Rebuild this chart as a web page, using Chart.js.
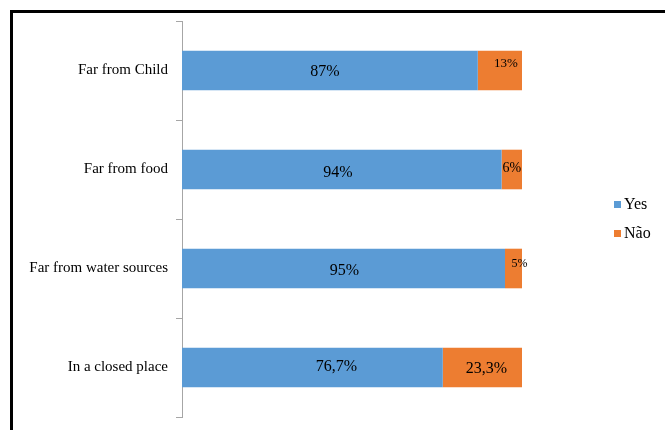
<!DOCTYPE html>
<html>
<head>
<meta charset="utf-8">
<script src="https://cdn.jsdelivr.net/npm/chart.js@4/dist/chart.umd.min.js"></script>
<style>
  body { margin: 0; background: #fff; }
  #wrap { position: relative; width: 665px; height: 430px; overflow: hidden; }
  #frame { position: absolute; left: 10px; top: 10px; width: 800px; height: 600px; border: 3px solid #000; }
  #chart { position: absolute; left: 0; top: 0; }
</style>
</head>
<body>
<div id="wrap">
  <div id="frame"></div>
  <canvas id="chart" width="665" height="430"></canvas>
</div>
<script>
// Where to keep it: share of answers
const categories = ['Far from Child', 'Far from food', 'Far from water sources', 'In a closed place'];
const yesValues = [87, 94, 95, 76.7];
const naoValues = [13, 6, 5, 23.3];

// label look per bar: [font size, shift x, shift y]
const yesLabelStyle = [[16, -5, 1], [16, -4, 3], [16, 1, 2], [16, 24, -1]];
const naoLabelStyle = [[13, 6, -7], [14, 0, -1], [12, 6, -5], [16, 4, 1]];

const serif = '"Liberation Serif", "Times New Roman", serif';

function fmt(v) {
    return String(v).replace('.', ',') + '%';
}

// value text on each bar segment
const barLabels = {
    id: 'barLabels',
    afterDatasetsDraw(chart) {
        const ctx = chart.ctx;
        const styles = [yesLabelStyle, naoLabelStyle];
        ctx.save();
        ctx.fillStyle = '#000';
        ctx.textAlign = 'center';
        ctx.textBaseline = 'middle';
        chart.data.datasets.forEach((ds, di) => {
            chart.getDatasetMeta(di).data.forEach((bar, i) => {
                const [size, dx, dy] = styles[di][i];
                ctx.font = size + 'px ' + serif;
                ctx.fillText(fmt(ds.data[i]), (bar.x + bar.base) / 2 + dx, bar.y + dy);
            });
        });
        ctx.restore();
    }
};

// legend to the right of the plot
const sideLegend = {
    id: 'sideLegend',
    afterDraw(chart) {
        const ctx = chart.ctx;
        ctx.save();
        ctx.font = '16px ' + serif;
        ctx.textBaseline = 'middle';
        chart.data.datasets.forEach((ds, i) => {
            const y = 205 + i * 29;
            ctx.fillStyle = ds.backgroundColor;
            ctx.fillRect(614, y - 4, 7, 7);
            ctx.fillStyle = '#000';
            ctx.fillText(ds.label, 624, y);
        });
        ctx.restore();
    }
};

const ctx = document.getElementById('chart').getContext('2d');
const chart = new Chart(ctx, {
    type: 'bar',
    data: {
        labels: categories,
        datasets: [{
            label: 'Yes',
            data: yesValues,
            backgroundColor: '#5b9bd5'
        }, {
            label: 'Não',
            data: naoValues,
            backgroundColor: '#ed7d31'
        }]
    },
    options: {
        indexAxis: 'y',
        responsive: false,
        animation: false,
        categoryPercentage: 1,
        barPercentage: 0.4,
        layout: {
            padding: { left: 0, right: 143, top: 21, bottom: 13 }
        },
        plugins: {
            legend: { display: false },
            tooltip: { enabled: false }
        },
        scales: {
            x: {
                stacked: true,
                min: 0,
                max: 100,
                display: false
            },
            y: {
                stacked: true,
                offset: true,
                afterFit(scale) {
                    scale.width = 182;
                    scale.paddingTop = 0;
                    scale.paddingBottom = 0;
                },
                grid: {
                    offset: true,
                    drawOnChartArea: false,
                    tickLength: 6,
                    color: '#a6a6a6'
                },
                border: {
                    display: true,
                    color: '#a6a6a6',
                    width: 1
                },
                ticks: {
                    padding: 8,
                    color: '#000',
                    font: { family: serif, size: 15 }
                }
            }
        }
    },
    plugins: [barLabels, sideLegend]
});
</script>
</body>
</html>
